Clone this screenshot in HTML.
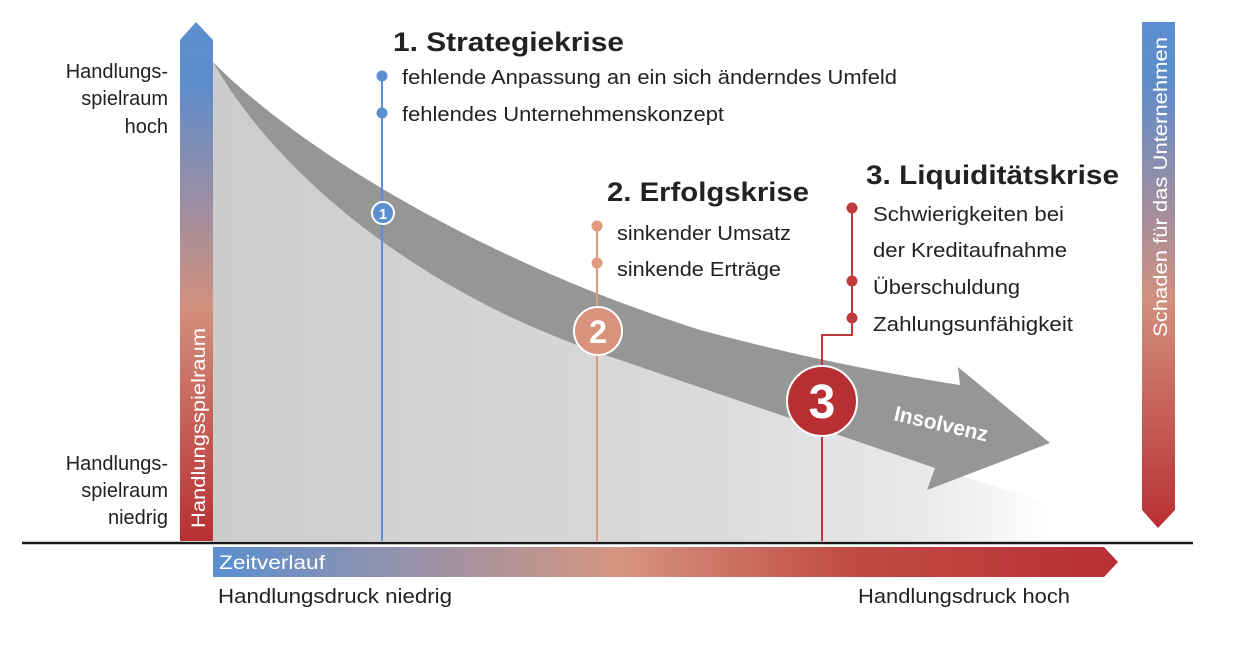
<!DOCTYPE html>
<html><head><meta charset="utf-8"><style>
html,body{margin:0;padding:0;background:#fff;}
svg{display:block;font-family:"Liberation Sans",sans-serif;}
</style></head><body>
<svg width="1254" height="652" viewBox="0 0 1254 652" xmlns="http://www.w3.org/2000/svg">
<defs>
<linearGradient id="vg" x1="0" y1="0" x2="0" y2="1">
<stop offset="0" stop-color="#5b8fd0"/><stop offset="0.12" stop-color="#5f8ccb"/>
<stop offset="0.55" stop-color="#d2907e"/><stop offset="1" stop-color="#b82f33"/>
</linearGradient>
<linearGradient id="hg" x1="0" y1="0" x2="1" y2="0">
<stop offset="0" stop-color="#5b8fd0"/><stop offset="0.45" stop-color="#d59580"/>
<stop offset="0.7" stop-color="#c14c44"/><stop offset="1" stop-color="#b82f33"/>
</linearGradient>
<linearGradient id="fg" x1="213" y1="0" x2="1055" y2="0" gradientUnits="userSpaceOnUse">
<stop offset="0" stop-color="#cbcccd"/><stop offset="0.6" stop-color="#dadbdc"/>
<stop offset="0.85" stop-color="#e9eaeb"/><stop offset="1" stop-color="#ffffff"/>
</linearGradient>
</defs>

<path d="M213,62 C280,180 430,300 620,360 L935,468 L1055,505 L1055,541 L213,541 Z" fill="url(#fg)"/>
<path d="M213,62 C300,150 480,260 700,330 Q830,365 960,385 L958,367 L1050,443 L927,490 L935,468 L620,360 C430,300 280,180 213,62 Z" fill="#959696"/>
<text x="0" y="0" transform="translate(893,420) rotate(13)" fill="#fff" font-size="21" font-weight="bold">Insolvenz</text>

<path d="M180,40 L196,22 L213,40 L213,541 L180,541 Z" fill="url(#vg)"/>
<text transform="translate(205,528) rotate(-90)" fill="#fff" font-size="19" textLength="200" lengthAdjust="spacingAndGlyphs">Handlungsspielraum</text>
<path d="M1142,22 L1175,22 L1175,510 L1158,528 L1142,510 Z" fill="url(#vg)"/>
<text transform="translate(1167,337) rotate(-90)" fill="#fff" font-size="19" textLength="300" lengthAdjust="spacingAndGlyphs">Schaden für das Unternehmen</text>

<line x1="22" y1="543" x2="1193" y2="543" stroke="#1a1a1a" stroke-width="2.5"/>
<path d="M213,547 L1104,547 L1118,562 L1104,577 L213,577 Z" fill="url(#hg)"/>
<text x="219" y="569" fill="#fff" font-size="19" textLength="106" lengthAdjust="spacingAndGlyphs">Zeitverlauf</text>
<text x="218" y="603" fill="#222" font-size="20" textLength="234" lengthAdjust="spacingAndGlyphs">Handlungsdruck niedrig</text>
<text x="1070" y="603" fill="#222" font-size="20" text-anchor="end" textLength="212" lengthAdjust="spacingAndGlyphs">Handlungsdruck hoch</text>

<g fill="#222" font-size="20" text-anchor="end">
<text x="168" y="78">Handlungs-</text>
<text x="168" y="105">spielraum</text>
<text x="168" y="133">hoch</text>
<text x="168" y="470">Handlungs-</text>
<text x="168" y="497">spielraum</text>
<text x="168" y="524">niedrig</text>
</g>

<line x1="382" y1="76" x2="382" y2="541" stroke="#5b8fd0" stroke-width="2"/>
<circle cx="382" cy="76" r="5.5" fill="#5b8fd0"/><circle cx="382" cy="113" r="5.5" fill="#5b8fd0"/>
<circle cx="383" cy="213" r="11" fill="#5b8fd0" stroke="#fff" stroke-width="2"/>
<text x="383" y="219" fill="#fff" font-size="15" font-weight="bold" text-anchor="middle">1</text>
<text x="393" y="51" fill="#222" font-size="27" font-weight="bold" textLength="231" lengthAdjust="spacingAndGlyphs">1. Strategiekrise</text>
<text x="402" y="84" fill="#222" font-size="20" textLength="495" lengthAdjust="spacingAndGlyphs">fehlende Anpassung an ein sich änderndes Umfeld</text>
<text x="402" y="121" fill="#222" font-size="20" textLength="322" lengthAdjust="spacingAndGlyphs">fehlendes Unternehmenskonzept</text>

<line x1="597" y1="226" x2="597" y2="541" stroke="#e0997f" stroke-width="2"/>
<circle cx="597" cy="226" r="5.5" fill="#e0997f"/><circle cx="597" cy="263" r="5.5" fill="#e0997f"/>
<circle cx="598" cy="331" r="24" fill="#d9937c" stroke="#fff" stroke-width="2"/>
<text x="598" y="343" fill="#fff" font-size="32" font-weight="bold" text-anchor="middle">2</text>
<text x="607" y="201" fill="#222" font-size="27" font-weight="bold" textLength="202" lengthAdjust="spacingAndGlyphs">2. Erfolgskrise</text>
<text x="617" y="240" fill="#222" font-size="20" textLength="174" lengthAdjust="spacingAndGlyphs">sinkender Umsatz</text>
<text x="617" y="276" fill="#222" font-size="20" textLength="164" lengthAdjust="spacingAndGlyphs">sinkende Erträge</text>

<path d="M852,208 L852,335 L822,335 L822,541" fill="none" stroke="#c0393b" stroke-width="2"/>
<circle cx="852" cy="208" r="5.5" fill="#c0393b"/><circle cx="852" cy="281" r="5.5" fill="#c0393b"/><circle cx="852" cy="318" r="5.5" fill="#c0393b"/>
<circle cx="822" cy="401" r="35" fill="#b82f33" stroke="#fff" stroke-width="2"/>
<text x="822" y="418" fill="#fff" font-size="48" font-weight="bold" text-anchor="middle">3</text>
<text x="866" y="184" fill="#222" font-size="27" font-weight="bold" textLength="253" lengthAdjust="spacingAndGlyphs">3. Liquiditätskrise</text>
<text x="873" y="221" fill="#222" font-size="20" textLength="191" lengthAdjust="spacingAndGlyphs">Schwierigkeiten bei</text>
<text x="873" y="257" fill="#222" font-size="20" textLength="194" lengthAdjust="spacingAndGlyphs">der Kreditaufnahme</text>
<text x="873" y="294" fill="#222" font-size="20" textLength="147" lengthAdjust="spacingAndGlyphs">Überschuldung</text>
<text x="873" y="331" fill="#222" font-size="20" textLength="200" lengthAdjust="spacingAndGlyphs">Zahlungsunfähigkeit</text>
</svg>
</body></html>
